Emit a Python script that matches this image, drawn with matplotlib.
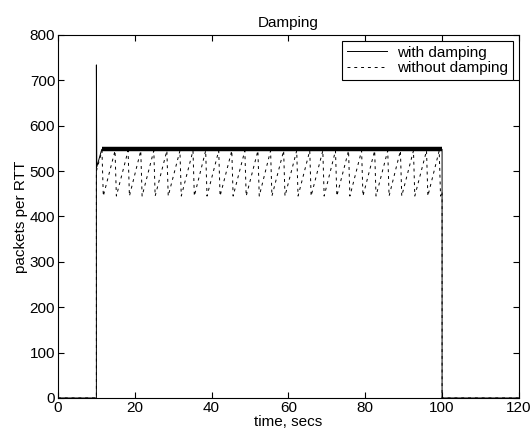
import numpy as np
import matplotlib
matplotlib.use("Agg")
import matplotlib.pyplot as plt

plt.rcParams['font.family'] = ['Liberation Sans', 'DejaVu Sans']

# with damping: start spike, then steady plateau (band ~543-553) until cutoff
damp_t = [0, 10, 10, 10.1, 11.4, 100, 100, 120]
damp_v = [0, 0, 734, 509, 548, 548, 0, 0]
plateau_t = [11.4, 100]
plateau_v = [548, 548]

# without damping: sawtooth, times of the troughs
trough_t = [11.8, 15.2, 18.6, 21.9, 25.3, 28.7, 32.1, 35.5, 38.8, 42.2,
            45.6, 49.0, 52.4, 55.7, 59.1, 62.5, 65.9, 69.3, 72.6, 76.0,
            79.4, 82.8, 86.2, 89.5, 92.9, 96.3, 99.6]
peak_v = 545
trough_v = 445
start_t, stop_t = 10, 100

# build the sawtooth vertices
nod_t = [0, start_t, start_t]
nod_v = [0, 0, 500]
for b in trough_t:
    nod_t += [b - 0.35, b]
    nod_v += [peak_v, trough_v]
nod_t += [stop_t, stop_t, 120]
nod_v += [455, 0, 0]

fig = plt.figure(figsize=(5.31, 4.40), dpi=100)
ax = fig.add_axes([0.1092, 0.0955, 0.868, 0.825])

ax.plot(damp_t, damp_v, color='black', lw=0.7, label='with damping')
ax.plot(plateau_t, plateau_v, color='black', lw=3.2, solid_capstyle='butt')
ax.plot(nod_t, nod_v, color='black', lw=0.7, ls=(0, (3, 4)), label='without damping')

ax.set_xlim(0, 120)
ax.set_ylim(0, 800)
ax.set_xticks(np.arange(0, 121, 20))
ax.set_yticks(np.arange(0, 801, 100))
ax.tick_params(direction='in', top=True, right=True, length=4, labelsize=11, pad=2)
for s in ax.spines.values():
    s.set_linewidth(0.8)

ax.set_xlabel('time, secs', fontsize=11, labelpad=0)
ax.set_ylabel('packets per RTT', fontsize=11, labelpad=1)
ax.set_title('Damping', fontsize=11, pad=6)

leg = ax.legend(loc='upper right', bbox_to_anchor=(0.987, 0.983), fontsize=11,
                fancybox=False, framealpha=1, edgecolor='black',
                handlelength=2.6, handletextpad=0.7, borderpad=0.3,
                labelspacing=0.1, borderaxespad=0)
leg.get_frame().set_linewidth(0.8)

fig.savefig('out.png', dpi=100)
